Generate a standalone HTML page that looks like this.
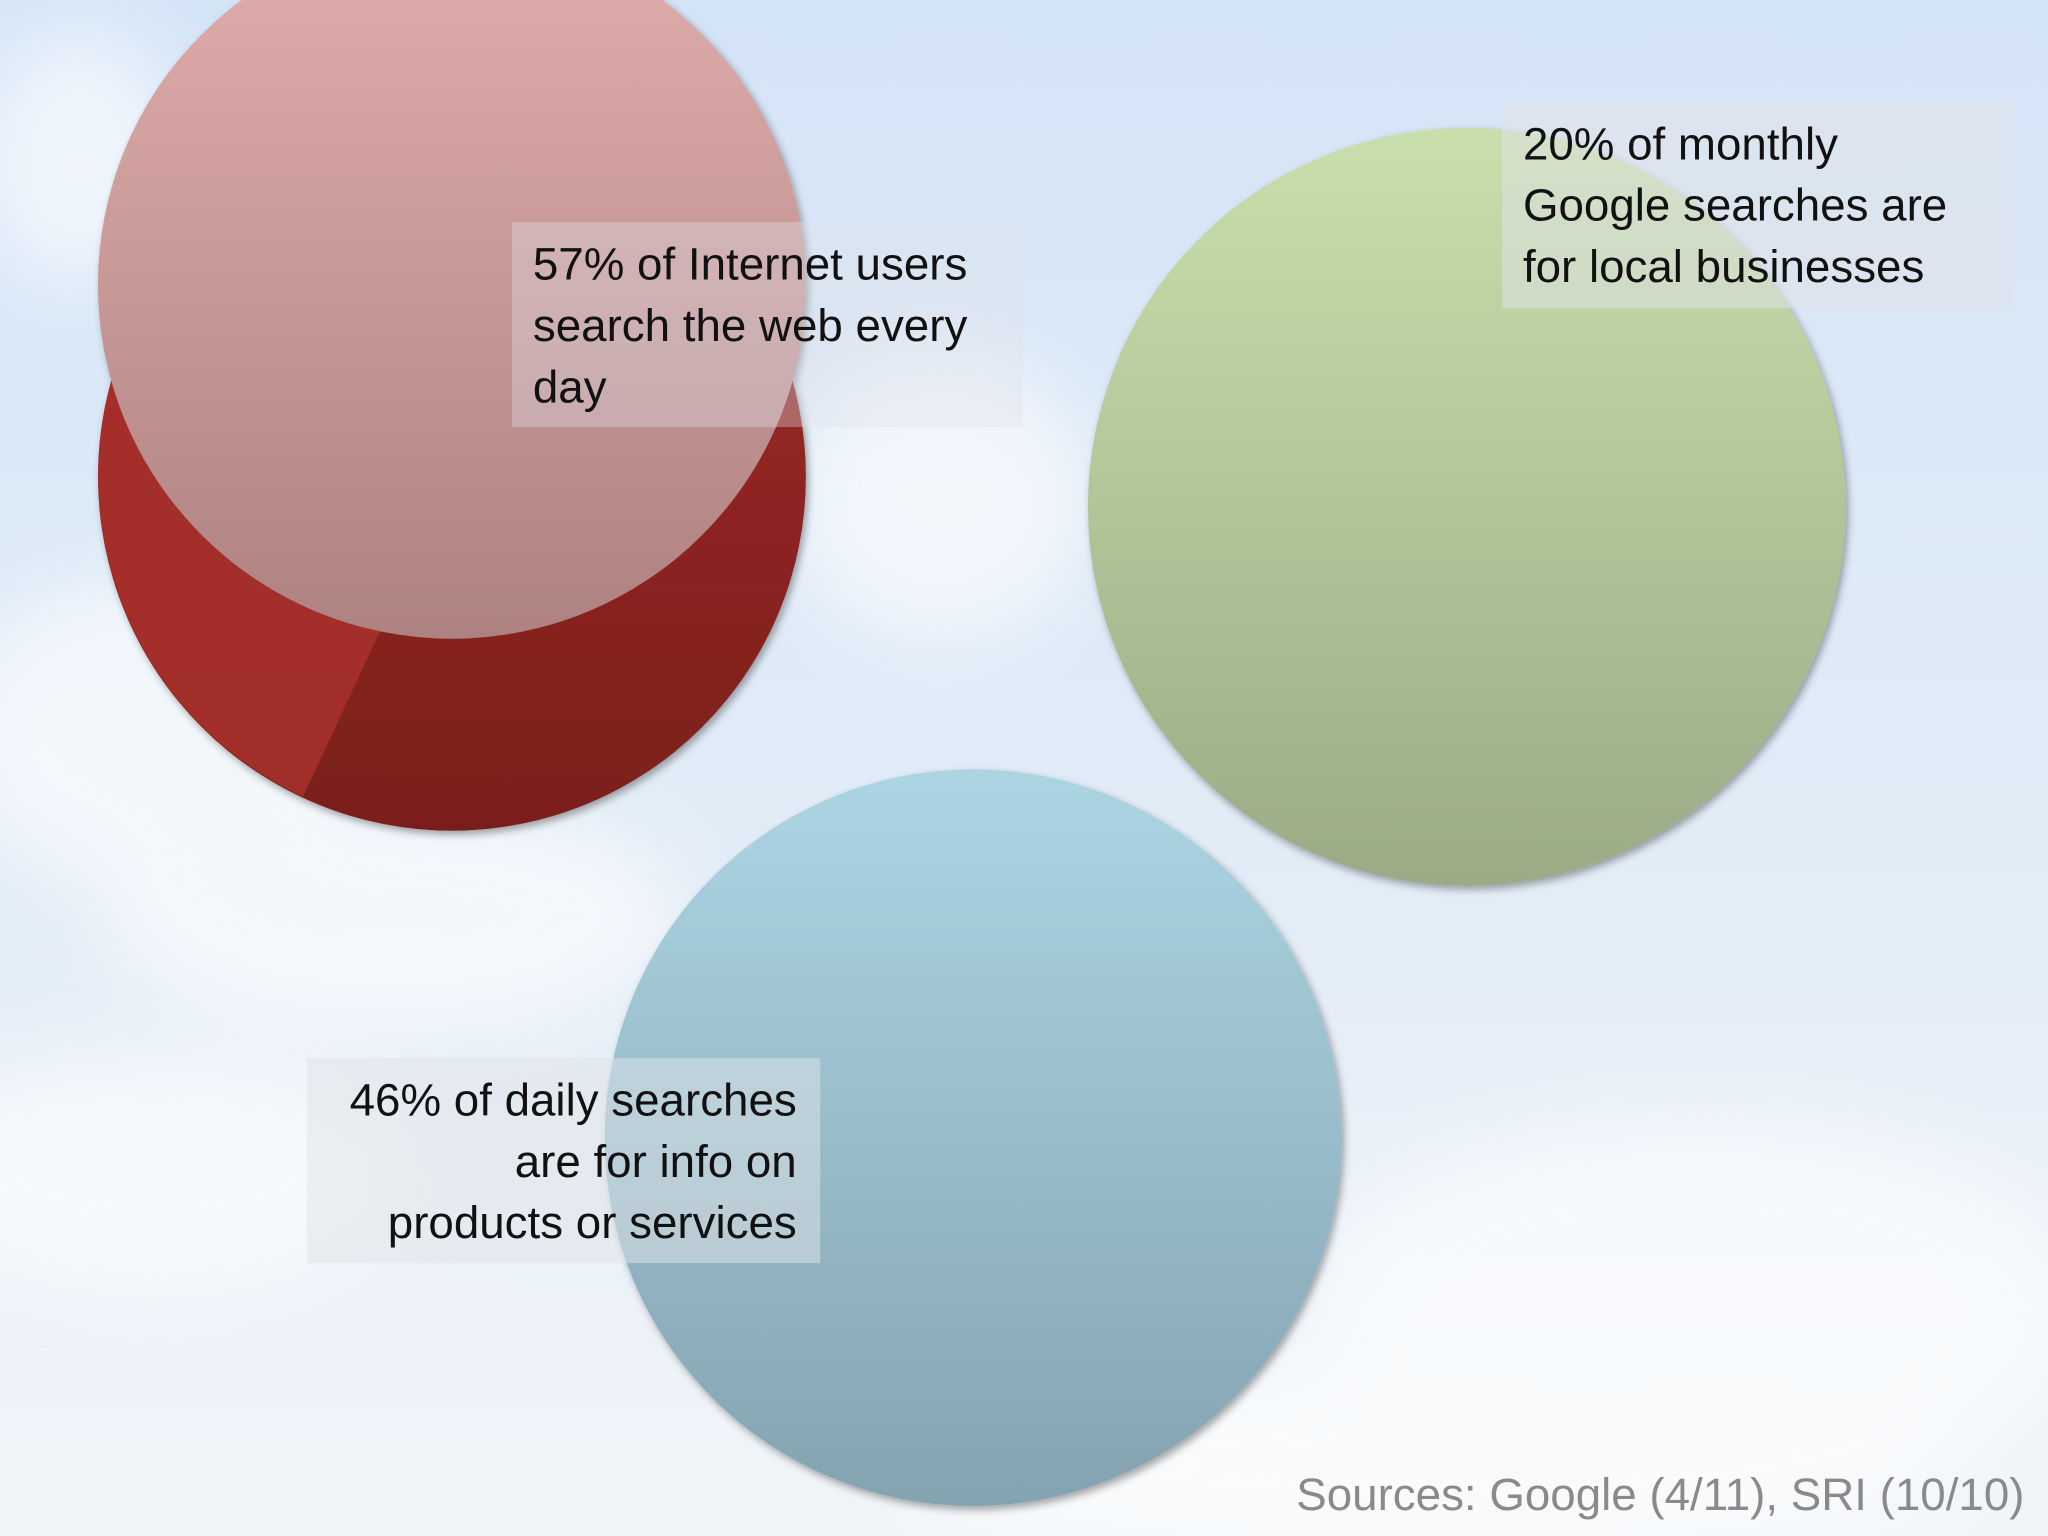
<!DOCTYPE html>
<html><head><meta charset="utf-8"><style>
html,body{margin:0;padding:0;width:2048px;height:1536px;overflow:hidden}
svg{display:block}
text{font-family:"Liberation Sans",sans-serif;font-size:35px;fill:#111}
</style></head><body>
<svg width="2048" height="1536" viewBox="0 0 1568 1176" preserveAspectRatio="none">
<defs>
<linearGradient id="sky" x1="0" y1="0" x2="0" y2="1"><stop offset="0" stop-color="#d4e4f7"/><stop offset="0.6" stop-color="#e3edf7"/><stop offset="1" stop-color="#f1f5f9"/></linearGradient>
<filter id="blur"><feGaussianBlur stdDeviation="30"/></filter>
<linearGradient id="pink" x1="0" y1="0" x2="0" y2="1"><stop offset="0" stop-color="#e0aeac"/><stop offset="1" stop-color="#ae8281"/></linearGradient>
<linearGradient id="red" x1="0" y1="0" x2="0" y2="1"><stop offset="0" stop-color="#a52a2a"/><stop offset="1" stop-color="#7a1f1b"/></linearGradient>
<linearGradient id="green" x1="0" y1="0" x2="0" y2="1"><stop offset="0" stop-color="#c9dfab"/><stop offset="1" stop-color="#9aab86"/></linearGradient>
<linearGradient id="blue" x1="0" y1="0" x2="0" y2="1"><stop offset="0" stop-color="#acd5e3"/><stop offset="1" stop-color="#84a3b1"/></linearGradient>
<filter id="sh"><feDropShadow dx="2" dy="3" stdDeviation="3" flood-color="#000" flood-opacity="0.35"/></filter>
</defs>
<rect width="1568" height="1176" fill="url(#sky)"/>
<g filter="url(#blur)" fill="#fff" opacity="0.6">
<ellipse cx="120" cy="560" rx="160" ry="120"/>
<ellipse cx="300" cy="700" rx="220" ry="90"/>
<ellipse cx="720" cy="380" rx="120" ry="110"/>
<ellipse cx="120" cy="900" rx="200" ry="90"/>
<ellipse cx="1300" cy="1000" rx="300" ry="140"/>
<ellipse cx="1100" cy="1120" rx="400" ry="80"/>
<ellipse cx="60" cy="120" rx="80" ry="100"/>
</g>
<g filter="url(#sh)">
<circle cx="346" cy="365" r="271" fill="url(#red)"/>
<path d="M346 365 L232 610 A271 271 0 0 1 120 215 Z" fill="#a8302c" opacity="0.85"/>
<circle cx="346" cy="218" r="271" fill="url(#pink)"/>
</g>
<circle cx="1123" cy="388" r="290" fill="url(#green)" filter="url(#sh)"/>
<circle cx="745" cy="871" r="282" fill="url(#blue)" filter="url(#sh)"/>
<g>
<rect x="392" y="170" width="391" height="157" fill="#dfe3e8" opacity="0.35"/>
<text x="408" y="214">57% of Internet users</text>
<text x="408" y="261">search the web every</text>
<text x="408" y="308">day</text>
</g>
<g>
<rect x="1150" y="78" width="391" height="158" fill="#dfe3e8" opacity="0.5"/>
<text x="1166" y="122">20% of monthly</text>
<text x="1166" y="169">Google searches are</text>
<text x="1166" y="216">for local businesses</text>
</g>
<g text-anchor="end">
<rect x="235" y="810" width="393" height="157" fill="#dfe3e8" opacity="0.5"/>
<text x="610" y="854">46% of daily searches</text>
<text x="610" y="901">are for info on</text>
<text x="610" y="948">products or services</text>
</g>
<text x="1550" y="1156" text-anchor="end" style="fill:#8a8a8a;font-size:35px">Sources: Google (4/11), SRI (10/10)</text>
</svg>
</body></html>
